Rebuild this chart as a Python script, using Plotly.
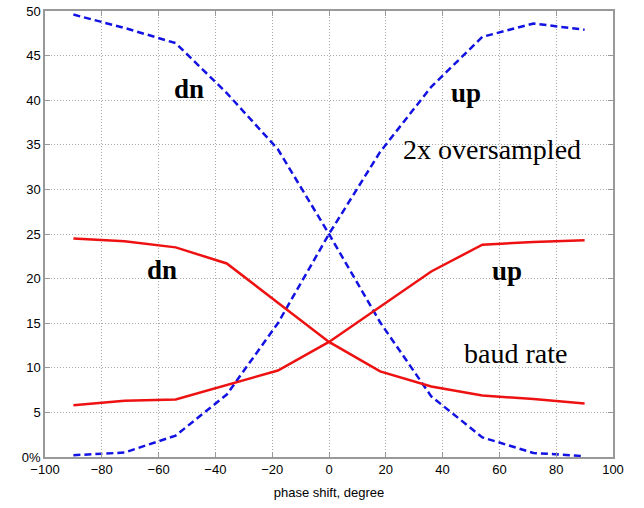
import plotly.graph_objects as go

phase = [-90, -72, -54, -36, -18, 0, 18, 36, 54, 72, 90]

over_dn = [49.6, 48.1, 46.4, 40.8, 34.5, 25.0, 15.1, 6.8, 2.2, 0.45, 0.1]
over_up = [0.2, 0.5, 2.4, 7.0, 15.0, 25.0, 34.2, 41.5, 47.1, 48.6, 47.9]
baud_dn = [24.5, 24.2, 23.5, 21.7, 17.3, 12.9, 9.6, 7.9, 6.9, 6.5, 6.0]
baud_up = [5.8, 6.3, 6.45, 8.1, 9.7, 12.9, 16.9, 20.8, 23.8, 24.1, 24.3]

y_ticks = [0, 5, 10, 15, 20, 25, 30, 35, 40, 45, 50]
y_labels = ["0%", "5", "10", "15", "20", "25", "30", "35", "40", "45", "50"]
x_ticks = [-100, -80, -60, -40, -20, 0, 20, 40, 60, 80, 100]
x_labels = ["\u2212100", "\u221280", "\u221260", "\u221240", "\u221220", "0", "20", "40", "60", "80", "100"]

labels = [
    ("<b>dn</b>", -49.2, 41.3, 27),
    ("<b>up</b>", 48.1, 40.8, 27),
    ("2x oversampled", 57.5, 34.5, 28),
    ("<b>dn</b>", -58.8, 21.0, 27),
    ("<b>up</b>", 62.6, 20.8, 27),
    ("baud rate", 65.8, 11.6, 28),
]

fig = go.Figure()
blue = "#1212e2"
red = "#ee1111"
fig.add_trace(go.Scatter(x=phase, y=over_dn, mode="lines",
                         line=dict(color=blue, width=2.5, dash="7px,4px")))
fig.add_trace(go.Scatter(x=phase, y=over_up, mode="lines",
                         line=dict(color=blue, width=2.5, dash="7px,4px")))
fig.add_trace(go.Scatter(x=phase, y=baud_dn, mode="lines",
                         line=dict(color=red, width=2.5)))
fig.add_trace(go.Scatter(x=phase, y=baud_up, mode="lines",
                         line=dict(color=red, width=2.5)))

for txt, x, y, s in labels:
    fig.add_annotation(x=x, y=y, text=txt, showarrow=False,
                       font=dict(family="Liberation Serif", size=s, color="black"))

axis_common = dict(showgrid=True, gridcolor="#a8a8a8", griddash="1px,2px", gridwidth=1,
                   showline=True, linecolor="#999999", linewidth=1.5, mirror="ticks",
                   ticks="inside", ticklen=5, tickcolor="#999999", zeroline=False,
                   automargin=False, ticklabeloverflow="allow",
                   tickfont=dict(family="Liberation Sans", size=13, color="black"))

fig.update_layout(
    width=644, height=508,
    margin=dict(l=45, r=31, t=11, b=51),
    paper_bgcolor="white", plot_bgcolor="white",
    showlegend=False,
    xaxis=dict(range=[-100, 100], tickvals=x_ticks, ticktext=x_labels,
               title=dict(text="phase shift, degree", standoff=12,
                          font=dict(family="Liberation Sans", size=13, color="black")),
               **axis_common),
    yaxis=dict(range=[0, 50], tickvals=y_ticks, ticktext=y_labels, **axis_common),
)

# remove the browser's default 8px body margin so the figure starts at the page corner
fig.write_html("out.html", config={"displayModeBar": False},
               post_script="document.body.style.margin='0px';")
